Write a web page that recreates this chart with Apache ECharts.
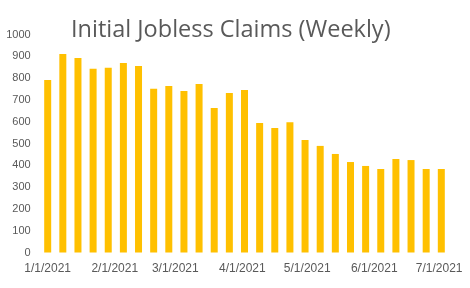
<!DOCTYPE html>
<html>
<head>
<meta charset="utf-8">
<script src="https://cdn.jsdelivr.net/npm/echarts@6/dist/echarts.min.js"></script>
<style>
html,body{margin:0;padding:0;background:#fff;}
#c{width:470px;height:288px;}
</style>
</head>
<body>
<div id="c"></div>
<script>
const titleText = 'Initial Jobless Claims (Weekly)';
const weeks = ['2021-01-01','2021-01-08','2021-01-15','2021-01-22','2021-01-29',
  '2021-02-05','2021-02-12','2021-02-19','2021-02-26','2021-03-05','2021-03-12',
  '2021-03-19','2021-03-26','2021-04-02','2021-04-09','2021-04-16','2021-04-23',
  '2021-04-30','2021-05-07','2021-05-14','2021-05-21','2021-05-28','2021-06-04',
  '2021-06-11','2021-06-18','2021-06-25','2021-07-02'];
const claims = [791, 910, 892, 843, 848, 869, 855, 751, 764, 741, 773, 663, 732,
  745, 594, 571, 598, 516, 489, 452, 415, 397, 383, 429, 424, 383, 383];
const xMin = '2020-12-29';
const xMax = '2021-07-05';
const yMin = 0, yMax = 1000, yStep = 100;

const DAY = 86400000;
const chart = echarts.init(document.getElementById('c'));
chart.setOption({
  animation: false,
  title: {
    text: titleText,
    left: 66, top: 13,
    textStyle: {fontFamily: 'Open Sans', fontWeight: 'normal', fontSize: 23.5, color: '#595959'}
  },
  grid: {left: 37.7, right: 18.7, top: 34.5, bottom: 35.5, containLabel: false},
  xAxis: {
    type: 'time',
    min: xMin, max: xMax,
    minInterval: 28 * DAY, maxInterval: 31 * DAY,
    axisLine: {show: false},
    axisTick: {show: false},
    splitLine: {show: false},
    axisLabel: {
      showMinLabel: false, showMaxLabel: false,
      color: '#595959', fontFamily: 'Liberation Sans', fontSize: 12, margin: 10,
      hideOverlap: false,
      formatter: function (v) {
        const d = new Date(v);
        return (d.getMonth() + 1) + '/' + d.getDate() + '/' + d.getFullYear();
      }
    }
  },
  yAxis: {
    type: 'value', min: yMin, max: yMax, interval: yStep,
    axisLine: {show: false}, axisTick: {show: false}, splitLine: {show: false},
    axisLabel: {color: '#595959', fontFamily: 'Liberation Sans', fontSize: 11, margin: 7,
      formatter: function (v) { return String(v); }}
  },
  series: [{
    type: 'bar',
    data: weeks.map((w, i) => [w, claims[i]]),
    barWidth: 7,
    itemStyle: {color: '#FFC000'}
  }]
});
</script>
</body>
</html>
